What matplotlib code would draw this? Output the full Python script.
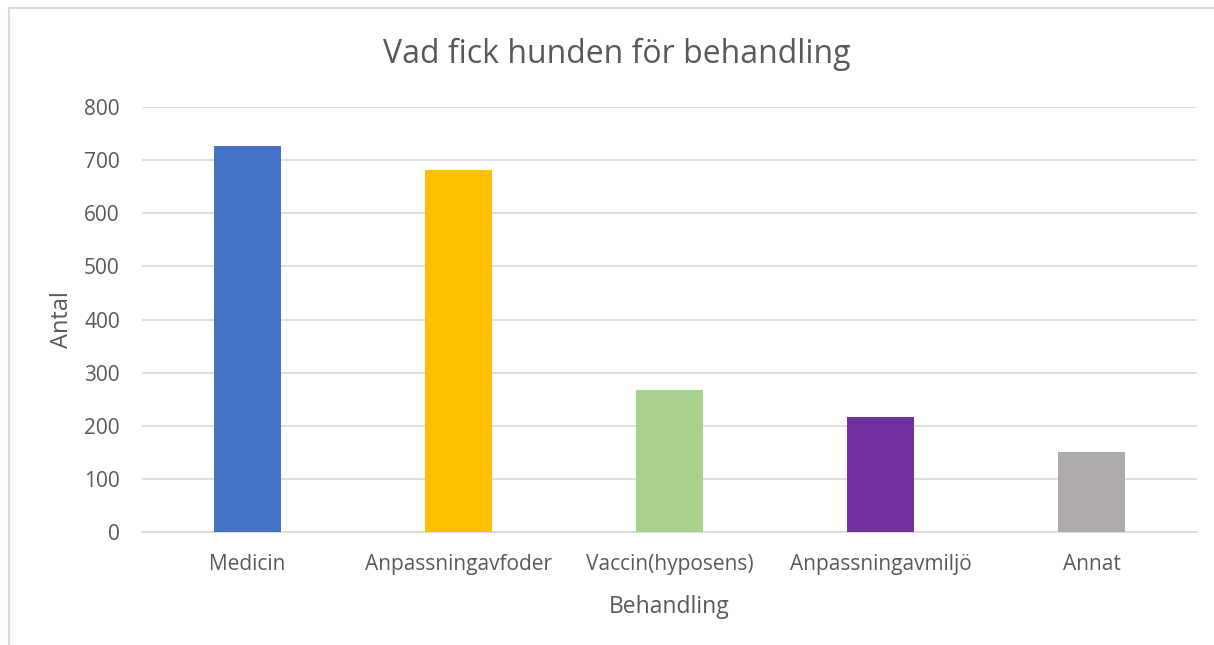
import matplotlib
matplotlib.use('Agg')
import matplotlib.pyplot as plt
from matplotlib.lines import Line2D

categories = ['Medicin', 'Anpassningavfoder', 'Vaccin(hyposens)', 'Anpassningavmiljö', 'Annat']
values = [727, 682, 267, 217, 151]
colors = ['#4472C4', '#FFC000', '#A9D18E', '#7030A0', '#AFABAB']
yticks = [0, 100, 200, 300, 400, 500, 600, 700, 800]

TXT = '#595959'
GRID = '#D9D9D9'
W, H = 1214, 645

plt.rcParams['font.family'] = ['Open Sans', 'DejaVu Sans']

fig = plt.figure(figsize=(W / 100, H / 100), dpi=100)
fig.patch.set_facecolor('white')
# plot area in pixel coords: x 142..1197, y 107..532
ax = fig.add_axes([142 / W, 1 - 532 / H, 1055 / W, 425 / H])

x = range(len(categories))
ax.bar(x, values, width=0.318, color=colors, zorder=3)
ax.set_xlim(-0.5, len(categories) - 0.5)
ax.set_ylim(0, 800)
ax.set_yticks(yticks)
ax.set_xticks(list(x))
ax.set_xticklabels(categories)
ax.grid(axis='y', color=GRID, lw=1.2, zorder=0)
for s in ('top', 'right', 'left'):
    ax.spines[s].set_visible(False)
ax.spines['bottom'].set_color(GRID)
ax.spines['bottom'].set_linewidth(1.2)
ax.tick_params(length=0, colors=TXT, labelsize=15)
ax.tick_params(axis='y', pad=16)
ax.tick_params(axis='x', pad=16)

ax.set_xlabel('Behandling', color=TXT, fontsize=16.5, labelpad=14)
ax.set_ylabel('Antal', color=TXT, fontsize=17, labelpad=7)
fig.text(617 / W, 1 - 54 / H, 'Vad fick hunden för behandling', color=TXT,
         fontsize=23, ha='center', va='center')

# chart frame
fig.add_artist(Line2D([9 / W, 1], [1 - 8 / H, 1 - 8 / H], color=GRID, lw=1.5,
                      transform=fig.transFigure))
fig.add_artist(Line2D([9 / W, 9 / W], [0, 1 - 8 / H], color=GRID, lw=1.5,
                      transform=fig.transFigure))

fig.savefig('out.png', dpi=100, facecolor='white')
